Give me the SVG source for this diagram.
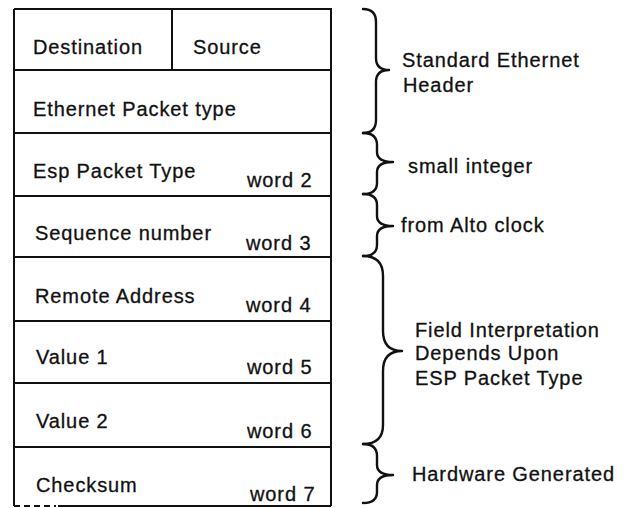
<svg xmlns="http://www.w3.org/2000/svg" width="626" height="508" viewBox="0 0 626 508">
<style>
text{font-family:"Liberation Sans",Arial,sans-serif;font-size:20px;letter-spacing:0.9px;fill:#111;stroke:#111;stroke-width:0.3}
.ln{stroke:#111;stroke-width:2;fill:none}
.br{stroke:#111;stroke-width:2.4;fill:none;stroke-linejoin:round;stroke-linecap:round}
</style>
<rect width="626" height="508" fill="#fff"/>
<g id="packet-frame">
<path class="ln" d="M14,9 H331 V506 M14,9 V506 M58,506 H331"/>
<path class="ln" d="M14,506 H56" stroke-dasharray="6,4"/>
</g>
<g id="dest-source">
<path class="ln" d="M14,70 H331 M172,9 V70"/>
<text x="33" y="54">Destination</text>
<text x="193" y="54">Source</text>
</g>
<g id="ether-type">
<path class="ln" d="M14,133 H331"/>
<text x="33" y="116">Ethernet Packet type</text>
</g>
<g id="esp-type">
<path class="ln" d="M14,196 H331"/>
<text x="33" y="178">Esp Packet Type</text>
<text x="247" y="187">word 2</text>
</g>
<g id="sequence">
<path class="ln" d="M14,257 H331"/>
<text x="35" y="240">Sequence number</text>
<text x="246" y="250">word 3</text>
</g>
<g id="remote">
<path class="ln" d="M14,321 H331"/>
<text x="35" y="303">Remote Address</text>
<text x="246" y="312">word 4</text>
</g>
<g id="value1">
<path class="ln" d="M14,383 H331"/>
<text x="36" y="364">Value 1</text>
<text x="247" y="374">word 5</text>
</g>
<g id="value2">
<path class="ln" d="M14,447 H331"/>
<text x="36" y="428">Value 2</text>
<text x="247" y="438">word 6</text>
</g>
<g id="checksum">
<text x="36" y="492">Checksum</text>
<text x="250" y="501">word 7</text>
</g>
<g id="connectors">
<path class="br" d="M363,9 Q376,9 376,22 L376,58 Q376,70 389,70 Q376,70 376,82 L376,120 Q376,133 363,133"/>
<path class="br" d="M363,133 Q377,133 377,145 L377,152 Q377,162 393,162 Q377,162 377,172 L377,183 Q377,194 363,194"/>
<path class="br" d="M363,194 Q377,194 377,205 L377,216 Q377,226 393,226 Q377,226 377,236 L377,245 Q377,256 363,256"/>
<path class="br" d="M363,256 Q383,256 383,276 L383,331 Q383,351 402,351 Q383,351 383,371 L383,425 Q383,444 363,444"/>
<path class="br" d="M363,444 Q377,444 377,456 L377,465 Q377,475 393,475 Q377,475 377,485 L377,492 Q377,503 363,503"/>
</g>
<g id="labels">
<text x="402" y="67">Standard Ethernet</text>
<text x="403" y="92">Header</text>
<text x="408" y="173">small integer</text>
<text x="401" y="232">from Alto clock</text>
<text x="415" y="337">Field Interpretation</text>
<text x="415" y="360">Depends Upon</text>
<text x="415" y="385">ESP Packet Type</text>
<text x="412" y="481">Hardware Generated</text>
</g>
</svg>
